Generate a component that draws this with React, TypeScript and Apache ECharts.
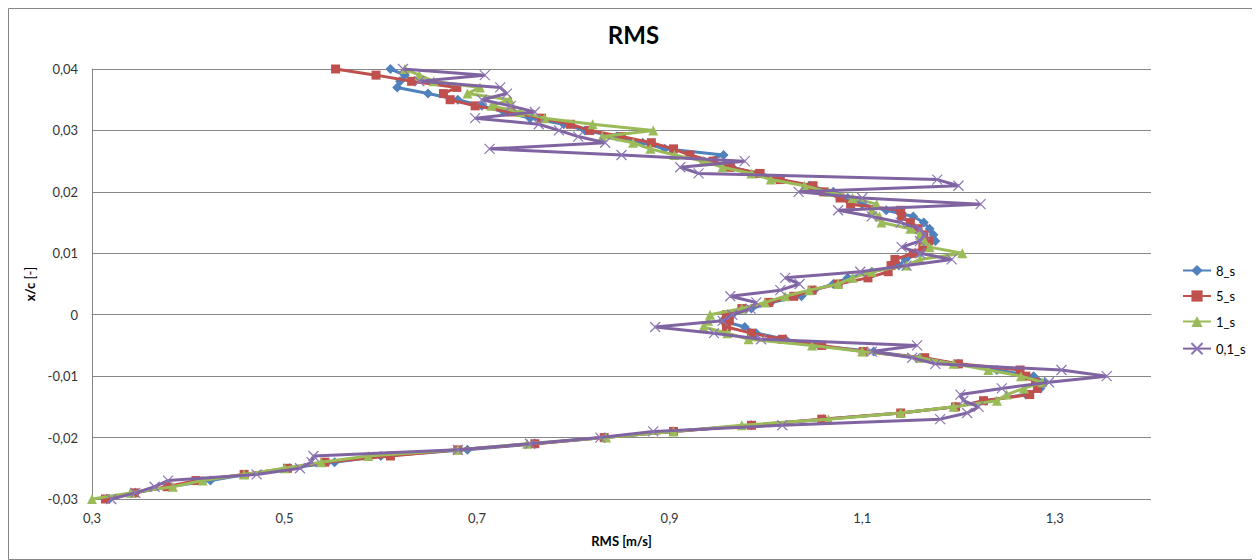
import React, { useEffect, useRef } from "react";
import * as echarts from "echarts";

const yLevels = [
  0.04, 0.039, 0.038, 0.037, 0.036, 0.035, 0.034, 0.033, 0.032, 0.031,
  0.03, 0.029, 0.028, 0.027, 0.026, 0.025, 0.024, 0.023, 0.022, 0.021,
  0.02, 0.019, 0.018, 0.017, 0.016, 0.015, 0.014, 0.013, 0.012, 0.011,
  0.01, 0.009, 0.008, 0.007, 0.006, 0.005, 0.004, 0.003, 0.002, 0.001,
  0.0, -0.001, -0.002, -0.003, -0.004, -0.005, -0.006, -0.007, -0.008, -0.009,
  -0.01, -0.011, -0.012, -0.013, -0.014, -0.015, -0.016, -0.017, -0.018, -0.019,
  -0.02, -0.021, -0.022, -0.023, -0.024, -0.025, -0.026, -0.027, -0.028, -0.029,
  -0.03,
];

const rms8s = [
  0.61, 0.625, 0.62, 0.617, 0.649, 0.68, 0.705, 0.728, 0.755, 0.79,
  0.812, 0.845, 0.872, 0.895, 0.956, 0.935, 0.965, 0.99, 1.012, 1.045,
  1.07, 1.085, 1.1, 1.125, 1.153, 1.164, 1.17, 1.174, 1.176, 1.165,
  1.16, 1.145, 1.138, 1.11, 1.085, 1.07, 1.05, 1.037, 1.005, 0.985,
  0.965, 0.955, 0.978, 0.99, 1.02, 1.05, 1.112, 1.16, 1.2, 1.24,
  1.278, 1.29, 1.285, 1.27, 1.228, 1.197, 1.14, 1.06, 0.985, 0.904,
  0.832, 0.76, 0.69, 0.6, 0.552, 0.505, 0.46, 0.423, 0.38, 0.345,
  0.318,
];

const rms5s = [
  0.553, 0.595, 0.632, 0.679, 0.665, 0.672, 0.698, 0.735, 0.767, 0.797,
  0.817, 0.85, 0.881, 0.904, 0.921, 0.945, 0.963, 0.994, 1.015, 1.049,
  1.06, 1.077, 1.088, 1.14, 1.141, 1.15, 1.158, 1.164, 1.169, 1.163,
  1.153, 1.134, 1.13, 1.127, 1.106, 1.075, 1.048, 1.029, 1.003, 0.975,
  0.959, 0.962, 0.959, 0.985, 1.017, 1.058, 1.101, 1.165, 1.2, 1.264,
  1.27, 1.28, 1.282, 1.274, 1.226, 1.197, 1.14, 1.058, 0.985, 0.904,
  0.832, 0.76, 0.68, 0.61, 0.542, 0.503, 0.458, 0.408, 0.378, 0.344,
  0.314,
];

const rms1s = [
  0.625, 0.64, 0.655, 0.703, 0.69, 0.734, 0.715, 0.745, 0.77, 0.82,
  0.883, 0.83, 0.862, 0.88, 0.905, 0.935, 0.955, 0.985, 1.005, 1.04,
  1.065, 1.09, 1.115, 1.11, 1.118, 1.12, 1.15, 1.16, 1.165, 1.17,
  1.204, 1.16, 1.146, 1.11, 1.09, 1.075, 1.045, 1.02, 0.999, 0.975,
  0.942, 0.94, 0.935, 0.96, 0.982, 1.048, 1.1, 1.16, 1.195, 1.231,
  1.265, 1.287, 1.268, 1.25, 1.24, 1.195, 1.14, 1.065, 0.975, 0.904,
  0.834, 0.752, 0.68, 0.587, 0.538, 0.5, 0.458, 0.415, 0.384, 0.34,
  0.3,
];

const rms01s = [
  0.623, 0.708, 0.64, 0.724, 0.731, 0.705, 0.735, 0.76, 0.698, 0.764,
  0.785, 0.805, 0.833, 0.713, 0.85, 0.978, 0.911, 0.93, 1.178, 1.2,
  1.034, 1.1, 1.223, 1.075, 1.11, 1.14, 1.16, 1.165, 1.16, 1.141,
  1.16, 1.193, 1.146, 1.098, 1.02, 1.035, 1.015, 0.963, 0.99, 0.984,
  0.965, 0.955, 0.885, 0.946, 0.995, 1.157, 1.11, 1.152, 1.176, 1.307,
  1.354, 1.294, 1.245, 1.202, 1.205, 1.221, 1.209, 1.181, 1.017, 0.883,
  0.828, 0.755, 0.68, 0.53, 0.528, 0.516, 0.471, 0.379, 0.365, 0.345,
  0.32,
];

const seriesNames = ["8_s", "5_s", "1_s", "0,1_s"];
const seriesValues = [rms8s, rms5s, rms1s, rms01s];
const seriesColors = ["#4F81BD", "#C0504D", "#9BBB59", "#8064A2"];
const seriesSymbols = [
  "diamond",
  "rect",
  "triangle",
  "path://M0,0L10,10M10,0L0,10",
];
const seriesSymbolSizes = [10, 9, 10, 10];

const FONT = "Lato, 'Open Sans', sans-serif";

export default function App() {
  const ref = useRef<HTMLDivElement>(null);

  useEffect(() => {
    document.body.style.overflow = "hidden";
    if (!ref.current) return;
    const chart = echarts.init(ref.current, undefined, { renderer: "svg" });

    const series = seriesNames.map((name, i) => ({
      name,
      type: "line",
      data: seriesValues[i].map((v, k) => [v, yLevels[k]]),
      symbol: seriesSymbols[i],
      symbolSize: seriesSymbolSizes[i],
      showSymbol: true,
      color: seriesColors[i],
      lineStyle: { width: 3, color: seriesColors[i] },
      itemStyle:
        i === 3
          ? { color: "none", borderColor: "#8C76B4", borderWidth: 1.2 }
          : { color: seriesColors[i], borderWidth: 0 },
      z: 2 + i,
    }));

    chart.setOption({
      animation: false,
      textStyle: { fontFamily: FONT },
      title: {
        text: "RMS",
        left: "center",
        top: 9,
        textStyle: { fontFamily: FONT, fontSize: 24, fontWeight: "bold", color: "#000" },
      },
      legend: {
        orient: "vertical",
        left: 1174,
        top: 256,
        padding: 0,
        itemWidth: 28,
        itemHeight: 14,
        itemGap: 12.5,
        textStyle: { fontFamily: FONT, fontSize: 13, color: "#000" },
        data: seriesNames,
      },
      grid: { left: 84, right: 108, top: 61, bottom: 61, containLabel: false },
      xAxis: {
        type: "value",
        min: 0.3,
        max: 1.4,
        interval: 0.1,
        name: "RMS [m/s]",
        nameLocation: "middle",
        nameGap: 35,
        nameTextStyle: { fontFamily: FONT, fontSize: 13, fontWeight: "bold", color: "#000" },
        axisLine: { show: true, lineStyle: { color: "#868686", width: 1 } },
        axisTick: { show: false },
        splitLine: { show: false },
        axisLabel: {
          margin: 12,
          fontFamily: FONT,
          fontSize: 13,
          color: "#333",
          showMaxLabel: false,
          formatter: (v: number) => {
            const k = Math.round(v * 10);
            return k % 2 === 1 ? (k / 10).toFixed(1).replace(".", ",") : "";
          },
        },
      },
      yAxis: {
        type: "value",
        min: -0.03,
        max: 0.04,
        interval: 0.01,
        name: "{b|x/c} [-]",
        nameLocation: "middle",
        nameGap: 38,
        nameRotate: 90,
        nameTextStyle: {
          fontFamily: FONT,
          fontSize: 13,
          color: "#000",
          rich: { b: { fontFamily: FONT, fontSize: 13, fontWeight: "bold", color: "#000" } },
        },
        axisLine: { show: true, lineStyle: { color: "#868686", width: 1 } },
        axisTick: { show: false },
        splitLine: { show: true, lineStyle: { color: "#868686", width: 1 } },
        axisLabel: {
          margin: 14,
          fontFamily: FONT,
          fontSize: 13,
          color: "#333",
          formatter: (v: number) => {
            const k = Math.round(v * 100);
            return k === 0 ? "0" : (k / 100).toFixed(2).replace(".", ",");
          },
        },
      },
      graphic: [
        {
          type: "rect",
          shape: { x: 0.5, y: 0.5, width: 1250, height: 551 },
          style: { fill: "none", stroke: "#868686", lineWidth: 1 },
          silent: true,
          z: 0,
        },
      ],
      series,
    });

    return () => chart.dispose();
  }, []);

  return <div ref={ref} style={{ width: 1251, height: 552 }} />;
}
